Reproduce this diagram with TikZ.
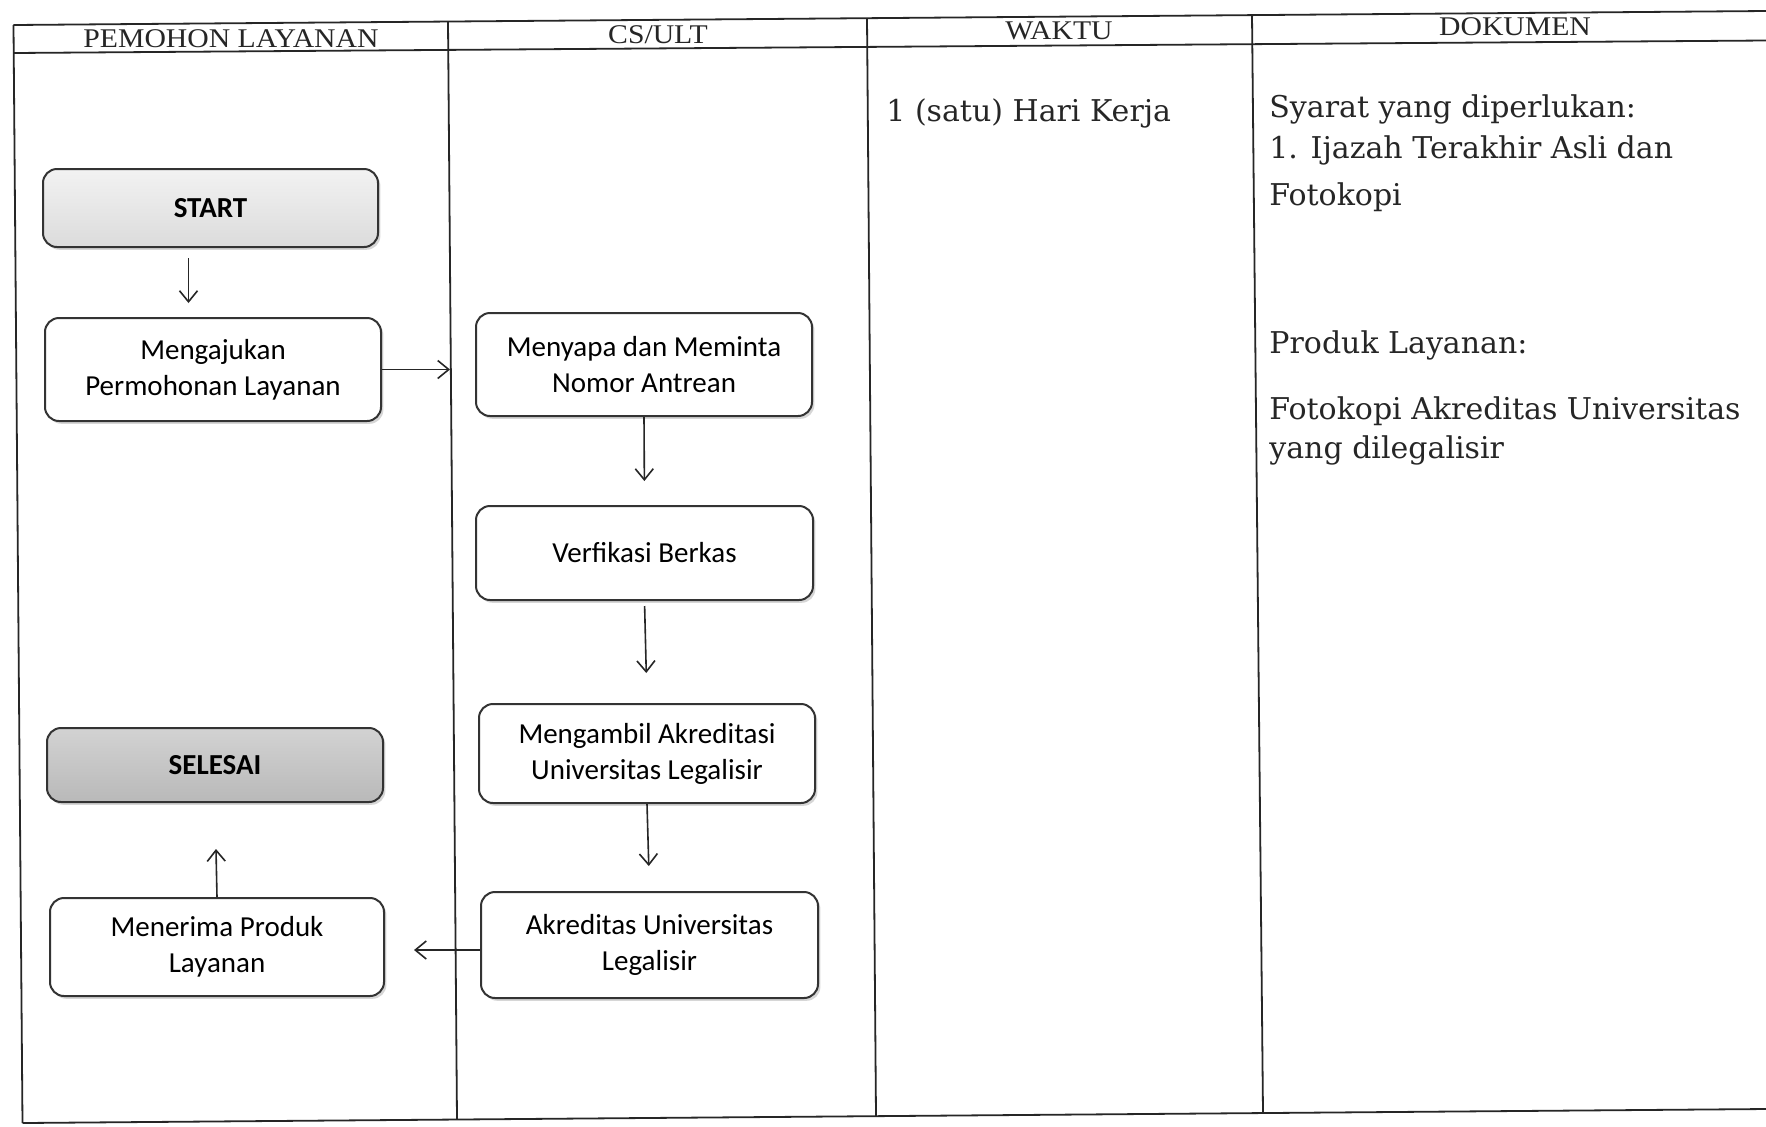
\documentclass[tikz,border=0pt]{standalone}
\usepackage{fontspec}
\setmainfont{DejaVu Serif}
\newfontfamily\boxfont{Carlito}
\newfontfamily\headfont[FakeStretch=1.1]{Liberation Serif}
\usetikzlibrary{arrows.meta,shadows,calc}

\begin{document}
\begin{tikzpicture}[x=0.5pt,y=-0.5pt,
  tableline/.style={line width=0.9pt, draw=black!85},
  flowbox/.style={draw=black!80, line width=1pt, rounded corners=7pt, fill=white,
    align=center, font=\boxfont\fontsize{14.5}{18}\selectfont, inner sep=0pt,
    text=black,
    drop shadow={shadow xshift=1.2pt, shadow yshift=-1.4pt, opacity=0.35, fill=black!45}},
  termbox/.style={flowbox, font=\boxfont\bfseries\fontsize{14.5}{18}\selectfont},
  headtext/.style={font=\headfont\fontsize{13.5}{16}\selectfont, text=black!85, inner sep=0pt},
  bodytext/.style={font=\fontsize{15}{18}\selectfont, text=black!85, inner sep=0pt, anchor=base west},
  arr/.style={-{Straight Barb[length=5.5pt,width=9pt]}, line width=0.8pt, draw=black!85}
]
\useasboundingbox (0,0) rectangle (1766,1126);
\fill[white] (0,0) rectangle (1766,1126);

% table frame
\draw[tableline] (13.5,25) -- (1766,11);
\draw[tableline] (13.5,53) -- (1766,40.5);
\draw[tableline] (13.5,25) -- (22.5,1123);
\draw[tableline] (22.5,1123) -- (1766,1109);
\draw[tableline] (448,21.5) -- (457,1119.5);
\draw[tableline] (867,18.2) -- (876,1116.2);
\draw[tableline] (1252,15.1) -- (1263,1113);

% headers
\node[headtext] (h1) at (231,39) {PEMOHON LAYANAN};
\node[headtext] (h2) at (658,35) {CS/ULT};
\node[headtext] (h3) at (1059,31) {WAKTU};
\node[headtext] (h4) at (1515,27) {DOKUMEN};

% boxes
\node[termbox, minimum width=167.5pt, minimum height=39pt,
      top color=gray!10, bottom color=gray!28] (start) at (210.5,208) {START};
\node[flowbox, minimum width=168pt, minimum height=51.5pt] (ajukan) at (213,369.5) {Mengajukan\\Permohonan Layanan};
\node[flowbox, minimum width=168pt, minimum height=51.5pt] (sapa) at (644,364.5) {Menyapa dan Meminta\\Nomor Antrean};
\node[flowbox, minimum width=168.5pt, minimum height=47pt] (verif) at (644.5,553) {Verfikasi Berkas};
\node[flowbox, minimum width=168pt, minimum height=49.5pt] (ambil) at (647,753.5) {Mengambil Akreditasi\\Universitas Legalisir};
\node[flowbox, minimum width=168.5pt, minimum height=53pt] (akred) at (649.5,945) {Akreditas Universitas\\Legalisir};
\node[flowbox, minimum width=167pt, minimum height=49pt] (terima) at (217,947) {Menerima Produk\\Layanan};
\node[termbox, minimum width=168pt, minimum height=37pt,
      top color=gray!35, bottom color=gray!55] (selesai) at (215,765) {SELESAI};

% connectors
\draw[arr, shorten <=5pt, shorten >=7pt] ([xshift=-11pt]start.south) -- ([xshift=-11pt]start.south |- ajukan.north);
\draw[arr, shorten >=12.5pt] (ajukan.east) -- (ajukan.east -| sapa.west);
\draw[arr, shorten >=12pt] (sapa.south) -- (verif.north);
\draw[arr, shorten <=2.5pt, shorten >=15pt] (verif.south) -- (ambil.north);
\draw[arr, shorten >=12.5pt] (ambil.south) -- (akred.north);
\draw[arr, shorten >=14.5pt] ([yshift=-2.5pt]akred.west) -- ([yshift=-2.5pt]akred.west -| terima.east);
\draw[arr, shorten >=23pt] (terima.north) -- (selesai.south);

% WAKTU
\node[bodytext] (waktu) at (886,121) {1 (satu) Hari Kerja};

% DOKUMEN
\node[bodytext] (d1) at (1269,117) {Syarat yang diperlukan:};
\node[bodytext] (d2) at (1269,158) {1. Ijazah Terakhir Asli dan};
\node[bodytext] (d3) at (1269,205) {Fotokopi};
\node[bodytext] (d4) at (1269,353) {Produk Layanan:};
\node[bodytext] (d5) at (1269,419) {Fotokopi Akreditas Universitas};
\node[bodytext] (d6) at (1269,458) {yang dilegalisir};
\end{tikzpicture}
\end{document}
